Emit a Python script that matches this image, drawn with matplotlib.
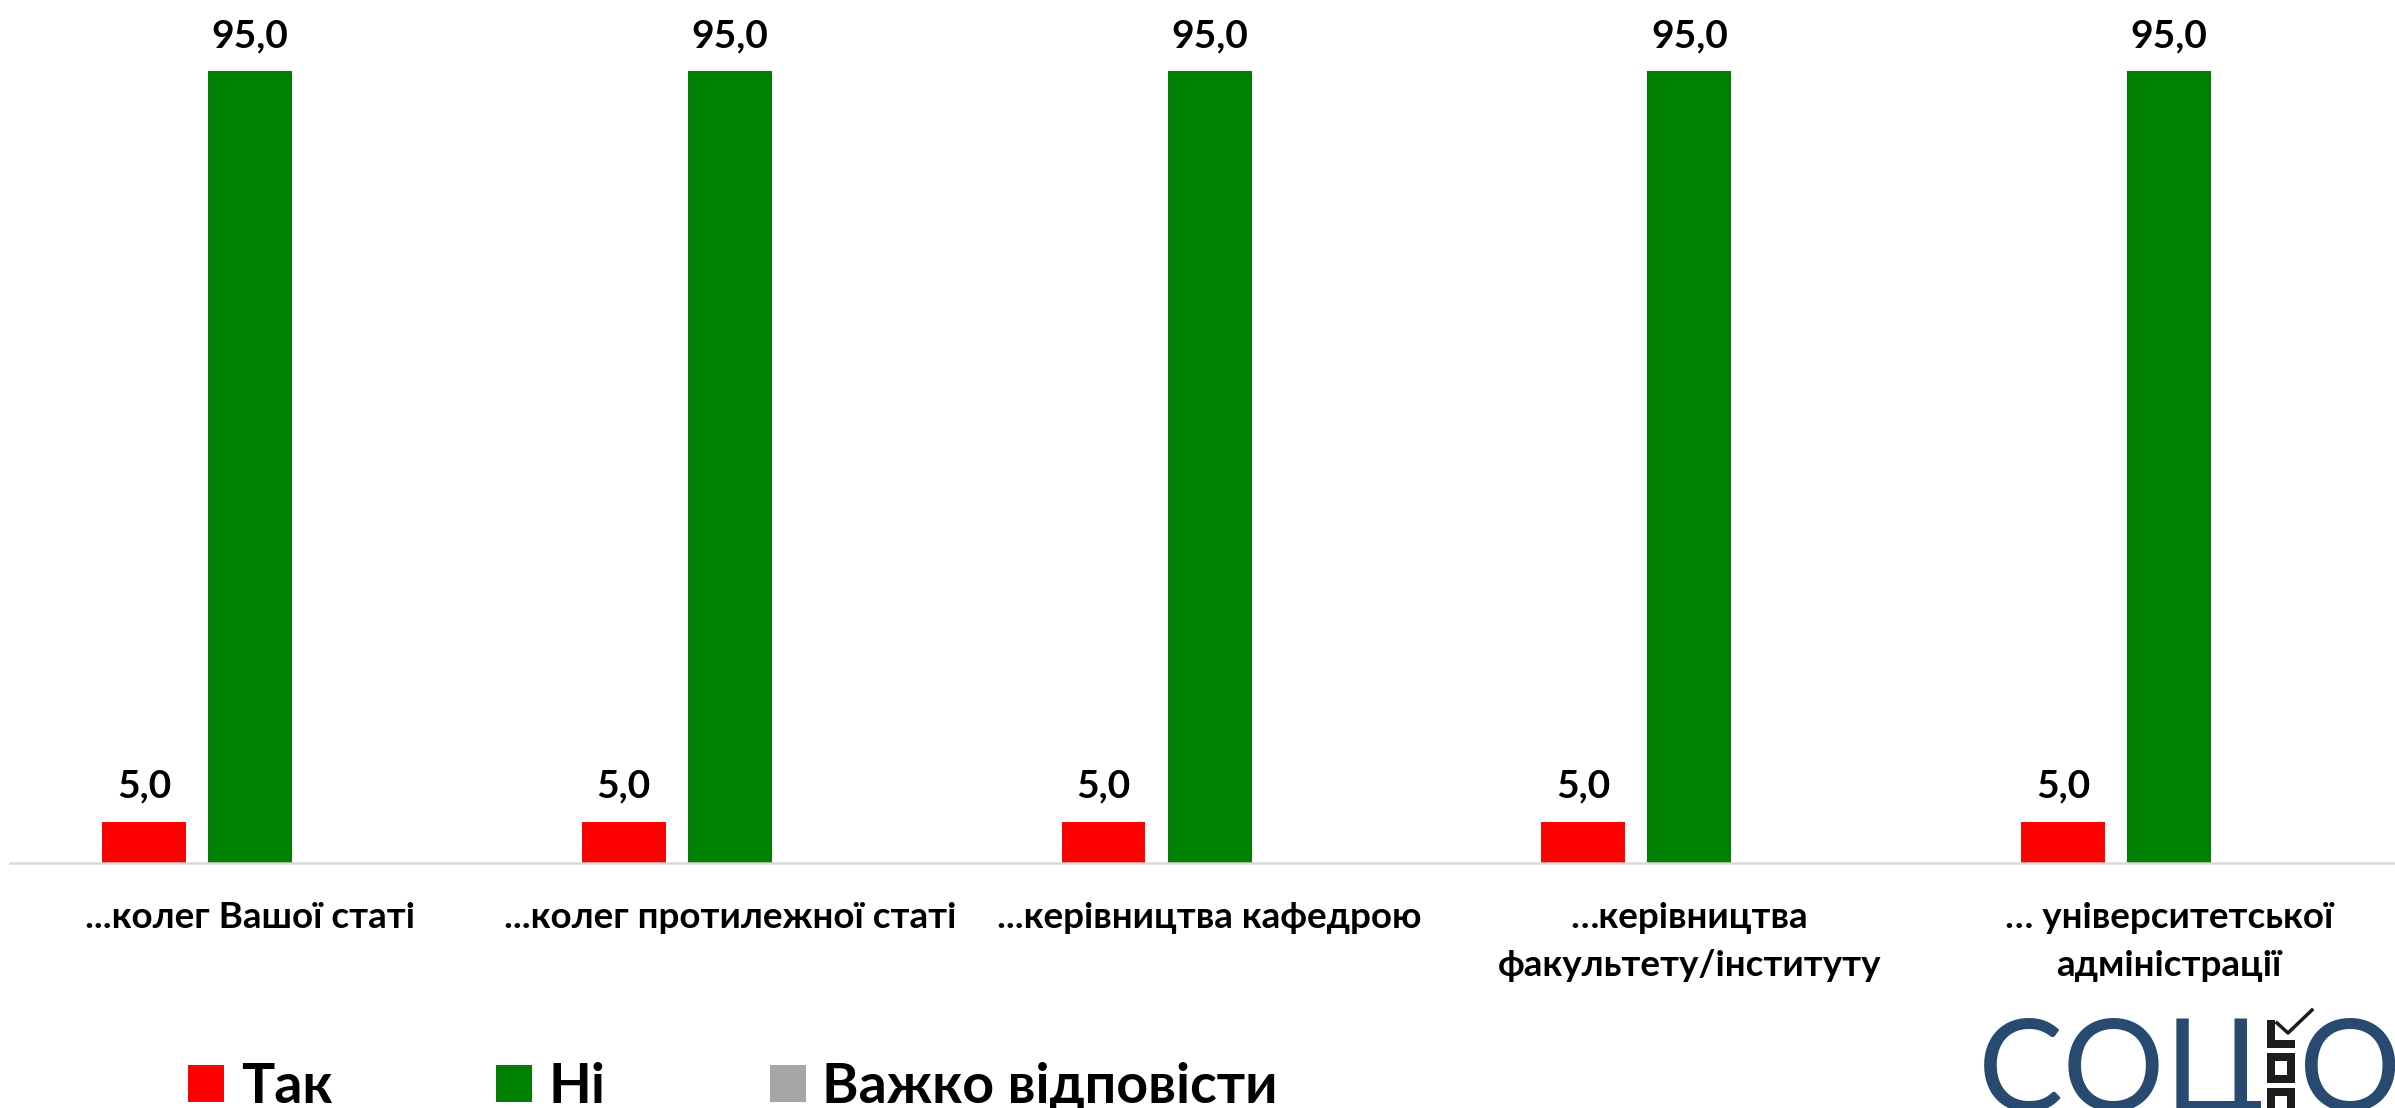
import matplotlib
matplotlib.use('Agg')
import matplotlib.pyplot as plt
import numpy as np
from matplotlib.patches import Rectangle
from matplotlib.lines import Line2D

plt.rcParams['font.family'] = ['Lato', 'DejaVu Sans']

# data
categories = ['...колег Вашої статі',
              '...колег протилежної статі',
              '...керівництва кафедрою',
              '…керівництва\nфакультету/інституту',
              '… університетської\nадміністрації']
series_names = ['Так', 'Ні', 'Важко відповісти']
tak = [5.0, 5.0, 5.0, 5.0, 5.0]
ni = [95.0, 95.0, 95.0, 95.0, 95.0]
vazhko = [0.0, 0.0, 0.0, 0.0, 0.0]
colors = ['#ff0000', '#008000', '#a6a6a6']

W, H = 2395, 1108


def px(x, y):
    # figure pixel (from top-left) -> figure fraction
    return x / W, 1 - y / H


fig = plt.figure(figsize=(W / 100, H / 100), dpi=100)
ax = fig.add_axes([10.1 / W, 1 - 863.3 / H, 2399 / W, 834 / H])

x = np.arange(len(categories))
step = 0.221
width = 0.1748
handles = []
for k, (vals, name, col) in enumerate(zip([tak, ni, vazhko], series_names, colors)):
    bars = ax.bar(x + (k - 1) * step, vals, width=width, color=col, label=name)
    handles.append(bars)
    for rect, v in zip(bars, vals):
        if v <= 0:
            continue
        ax.annotate(f'{v:.1f}'.replace('.', ','),
                    xy=(rect.get_x() + rect.get_width() / 2, v),
                    xytext=(0, 24), textcoords='offset pixels',
                    ha='center', va='baseline', fontsize=28, fontweight='bold')

# category labels under the axis
for i, lab in enumerate(categories):
    for j, line in enumerate(lab.split('\n')):
        ax.annotate(line, xy=(i, 0), xycoords=('data', 'axes fraction'),
                    xytext=(0, -65 - 48 * j), textcoords='offset pixels',
                    ha='center', va='baseline', fontsize=26.5, fontweight='bold',
                    annotation_clip=False)

ax.set_xlim(-0.5, 4.5)
ax.set_ylim(0, 100)
for s in ['top', 'left', 'right']:
    ax.spines[s].set_visible(False)
ax.spines['bottom'].set_color('#d9d9d9')
ax.spines['bottom'].set_linewidth(1.8)
ax.set_yticks([])
ax.tick_params(bottom=False, labelbottom=False)

fig.legend(handles, series_names, ncol=3, loc='lower left',
           bbox_to_anchor=(188 / W, -0.004), frameon=False,
           prop={'weight': 'bold', 'size': 40},
           handlelength=0.65, handleheight=0.65, handletextpad=0.3,
           columnspacing=2.95, borderpad=0, borderaxespad=0)

# logo in the bottom right corner
blue = '#284a70'
dark = '#1c1c1c'
fig.text(*px(1978, 1017), 'СОЦ', fontsize=92, color=blue, ha='left', va='top')
fig.text(*px(2299, 1017), 'О', fontsize=92, color=blue, ha='left', va='top')
lw = 5.76
fig.add_artist(Line2D([px(2271, 0)[0], px(2271, 0)[0], px(2295, 0)[0]],
                      [px(0, 1020)[1], px(0, 1044)[1], px(0, 1044)[1]],
                      color=dark, lw=lw, solid_joinstyle='miter', solid_capstyle='butt'))
fig.add_artist(Line2D([px(2277, 0)[0], px(2288, 0)[0], px(2312, 0)[0]],
                      [px(0, 1023)[1], px(0, 1033)[1], px(0, 1010)[1]],
                      color=dark, lw=2.5))
for top, bot in [(1057, 1079), (1092, 1125)]:
    x0, y0 = px(2271, bot)
    x1, y1 = px(2291, top)
    fig.add_artist(Rectangle((x0, y0), x1 - x0, y1 - y0, fill=False,
                             edgecolor=dark, lw=lw))

fig.savefig('out.png', dpi=100)
